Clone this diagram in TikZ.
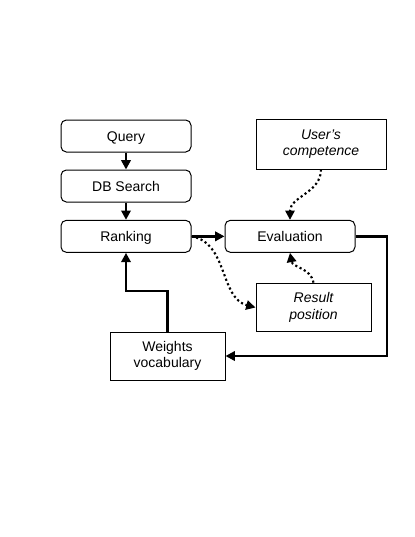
\documentclass[tikz,border=0pt]{standalone}
\usepackage{fontspec}
\setmainfont{Liberation Sans}
\usetikzlibrary{positioning,arrows.meta}

\begin{document}
\begin{tikzpicture}[
  x = 0.75pt,
  y = -0.75pt,
  font = \fontsize{10.5}{12.5}\selectfont,
  stage/.style={draw,rounded corners=4pt,line width=0.75pt,minimum width=97.5pt,minimum height=24pt,inner sep=0pt,text height=9.5pt,text depth=2pt},
  factor/.style={draw,line width=0.75pt,minimum width=86.25pt,minimum height=36.5pt,align=center,inner sep=0pt},
  flow/.style={-{Triangle[length=7pt,width=7pt]},line width=1.8pt},
  hint/.style={-{Triangle[length=7pt,width=7pt]},line width=1.6pt,dotted},
  ]
  \useasboundingbox (0,0) rectangle (415,537);

  \node [stage] (query) at (126,136) {Query};
  \node [stage, below=12.75pt of query] (dbsearch) {DB Search};
  \node [stage, below=13pt of dbsearch] (ranking) {Ranking};
  \node [stage, right=24.75pt of ranking] (evaluation) {Evaluation};

  \node [factor, minimum width=97.5pt, minimum height=37.5pt] (competence) at (321,144) {\itshape User's\\\itshape competence};
  \node [factor] (position) at (313.5,307.5) {\itshape Result\\\itshape position};
  \node [factor, minimum height=36pt] (weights) at (167.5,356) {Weights\\vocabulary};

  \coordinate (edge) at (387,356);
  \coordinate (knee) at (167.5,291);

  \draw [flow] (query)    -- (dbsearch);
  \draw [flow] (dbsearch) -- (ranking);
  \draw [flow] (ranking)  -- (evaluation);
  \draw [flow] (evaluation.east) -| (edge) -- (weights.east);
  \draw [flow] (weights.north) -- (knee) -| (ranking.south);

  \draw [hint] (competence.south) to[out=-90,in=90] (evaluation.north);
  \draw [hint] (position.north) to[out=100,in=-80] (evaluation.south);
  \draw [hint] (ranking.east) to[out=-10,in=165] (position.west);
\end{tikzpicture}
\end{document}
